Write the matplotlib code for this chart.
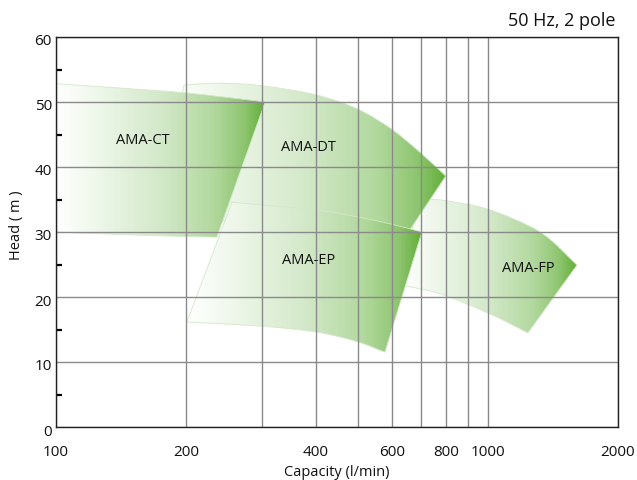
import numpy as np
import matplotlib
matplotlib.use("Agg")
import matplotlib.pyplot as plt
from matplotlib.patches import PathPatch
from matplotlib.path import Path
from matplotlib.colors import LinearSegmentedColormap
from matplotlib.ticker import FixedLocator, NullFormatter
from matplotlib.transforms import ScaledTranslation

plt.rcParams['font.family'] = ['Open Sans', 'DejaVu Sans']

# ---- data: outlines of each model's operating range (capacity l/min, head m) ----
models = ["AMA-FP", "AMA-DT", "AMA-EP", "AMA-CT"]

# AMA-CT
ct_top_cap = [100, 140.6, 200, 304.9]
ct_top_head = [52.8, 52.15, 51.4, 50.0]
ct_bot_cap = [100, 156.4, 235.7]
ct_bot_head = [30.0, 29.5, 29.2]

# AMA-DT
dt_top_cap = [197.9, 239.4, 299.7, 399.6, 499.4, 598.7, 703.1, 798]
dt_top_head = [52.6, 52.9, 52.5, 51.1, 48.9, 45.8, 42.0, 38.6]
dt_right_cap = [666.5]
dt_right_head = [30.8]
dt_bot_cap = [250, 625.5]
dt_bot_head = [31.2, 28.15]
dt_left_cap = [178.8]
dt_left_head = [39.7]

# AMA-EP
ep_top_cap = [255.6, 299.7, 401.6, 499.4, 598.7, 703.1]
ep_top_head = [34.6, 34.15, 33.4, 32.3, 31.2, 30.0]
ep_bot_cap = [200.9, 299.7, 401.6, 499.4, 577.2]
ep_bot_head = [16.15, 15.5, 14.6, 13.1, 11.5]

# AMA-FP
fp_top_cap = [696.0, 733.9, 802.4, 999.5, 1319, 1607]
fp_top_head = [35.7, 35.1, 34.8, 33.5, 30.0, 24.9]
fp_bot_cap = [625.5, 703.1, 802.4, 1011, 1237]
fp_bot_head = [21.85, 21.2, 20.15, 17.4, 14.5]

label_cap = [1237, 383.6, 385, 159]
label_head = [24.5, 43.2, 25.8, 44.3]

xticks = [100, 200, 400, 600, 800, 1000, 2000]
xminor = [300, 500, 700, 900]
yticks = [0, 10, 20, 30, 40, 50, 60]
yminor = [5, 15, 25, 35, 45, 55]

outlines = {
    "AMA-FP": (fp_top_cap, fp_top_head, [], [], fp_bot_cap, fp_bot_head, [], []),
    "AMA-DT": (dt_top_cap, dt_top_head, dt_right_cap, dt_right_head,
               dt_bot_cap, dt_bot_head, dt_left_cap, dt_left_head),
    "AMA-EP": (ep_top_cap, ep_top_head, [], [], ep_bot_cap, ep_bot_head, [], []),
    "AMA-CT": (ct_top_cap, ct_top_head, [], [], ct_bot_cap, ct_bot_head, [], []),
}


def smooth_segments(cap, head):
    """Catmull-Rom -> cubic Bezier segments in (log10 x, y) space."""
    p = np.column_stack([np.log10(cap), head])
    n = len(p)
    out = []
    for i in range(n - 1):
        p0 = p[i - 1] if i > 0 else p[i]
        p3 = p[i + 2] if i + 2 < n else p[i + 1]
        c1 = p[i] + (p[i + 1] - p0) / 6.0
        c2 = p[i + 1] - (p3 - p[i]) / 6.0
        for q in (c1, c2, p[i + 1]):
            out.append((10 ** q[0], q[1]))
    return out


def build_path(tc, th, rc, rh, bc, bh, lc, lh):
    verts = [(tc[0], th[0])]
    codes = [Path.MOVETO]
    seg = smooth_segments(tc, th)
    verts += seg
    codes += [Path.CURVE4] * len(seg)
    for c, h in zip(rc, rh):
        verts.append((c, h)); codes.append(Path.LINETO)
    verts.append((bc[-1], bh[-1])); codes.append(Path.LINETO)
    seg = smooth_segments(bc[::-1], bh[::-1])
    verts += seg
    codes += [Path.CURVE4] * len(seg)
    for c, h in zip(lc, lh):
        verts.append((c, h)); codes.append(Path.LINETO)
    verts.append((tc[0], th[0])); codes.append(Path.CLOSEPOLY)
    return Path(verts, codes)


cmap = LinearSegmentedColormap.from_list(
    "grn", [(0.0, "#ffffff"), (0.25, "#e9f4e4"), (0.5, "#d3e8c9"),
            (0.75, "#b2d89e"), (0.9, "#8ec570"), (1.0, "#62ae38")])

fig = plt.figure(figsize=(6.37, 4.81), dpi=100)
ax = fig.add_axes([56 / 637, 1 - 428 / 481, (618 - 56) / 637, (428 - 38) / 481])
ax.set_xscale("log")
ax.set_xlim(100, 2000)
ax.set_ylim(0, 60)

for i, name in enumerate(models):
    parts = outlines[name]
    path = build_path(*parts)
    allc = list(parts[0]) + list(parts[2]) + list(parts[4]) + list(parts[6])
    allh = list(parts[1]) + list(parts[3]) + list(parts[5]) + list(parts[7])
    z = 1.0 + 0.1 * i
    clip = PathPatch(path, transform=ax.transData)
    x0, x1 = min(allc), max(allc)
    y0, y1 = min(allh) - 1, max(allh) + 1
    xe = np.geomspace(x0, x1, 300)
    xc = np.sqrt(xe[:-1] * xe[1:])
    t = (np.log10(xc) - np.log10(x0)) / (np.log10(x1) - np.log10(x0))
    mesh = ax.pcolormesh(xe, [y0, y1], t[None, :], cmap=cmap, vmin=0, vmax=1,
                         shading="flat", edgecolors="none", antialiased=False,
                         zorder=z)
    mesh.set_clip_path(clip)
    ax.add_patch(PathPatch(path, facecolor="none", edgecolor="#d3e8c8",
                           lw=0.6, zorder=z + 0.05))

for name, xc_, yc_ in zip(models, label_cap, label_head):
    ax.text(xc_, yc_, name, ha="center", va="center", fontsize=10.5,
            color="#111111", zorder=4)

ax.xaxis.set_major_locator(FixedLocator(xticks))
ax.xaxis.set_minor_locator(FixedLocator(xminor))
ax.set_xticklabels([str(v) for v in xticks])
ax.xaxis.set_minor_formatter(NullFormatter())
ax.set_yticks(yticks)
ax.yaxis.set_minor_locator(FixedLocator(yminor))

ax.grid(True, which="both", axis="x", color="#8a8a8a", lw=1.0, zorder=2.5)
ax.grid(True, which="major", axis="y", color="#8a8a8a", lw=1.0, zorder=2.5)
ax.set_axisbelow(False)

ax.tick_params(axis="x", which="both", length=0, pad=12, labelsize=11, colors="#111111")
ax.tick_params(axis="y", which="major", length=0, pad=3, labelsize=11, colors="#111111")
ax.tick_params(axis="y", which="minor", direction="in", length=4, width=1.6, color="black")

shift = ScaledTranslation(0, -2 / 100, fig.dpi_scale_trans)
for lab in ax.get_yticklabels():
    lab.set_transform(lab.get_transform() + shift)

for s in ax.spines.values():
    s.set_color("#222222")
    s.set_linewidth(1.0)
    s.set_zorder(5)

ax.set_xlabel("Capacity (l/min)", fontsize=10.5, labelpad=4, color="#111111")
ax.set_ylabel("Head ( m )", fontsize=10.5, color="#111111")
ax.yaxis.set_label_coords(-0.057, 0.52)

fig.text(616 / 637, 1 - 21 / 481, "50 Hz, 2 pole", ha="right", va="center",
         fontsize=13, color="#111111")

fig.savefig("out.png", dpi=100)
